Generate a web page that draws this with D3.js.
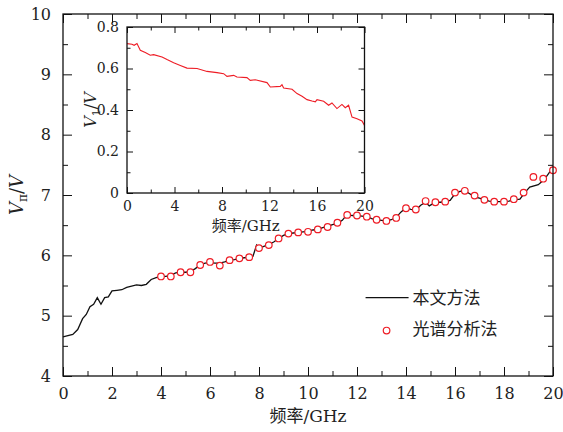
<!DOCTYPE html>
<html>
<head>
<meta charset="utf-8">
<script src="https://cdn.jsdelivr.net/npm/d3@7"></script>
<style>
  body { margin: 0; background: #fff; }
  svg text { font-family: "DejaVu Serif", "Liberation Serif", serif; fill: #222; }
  svg text.cjk, svg tspan.cjk { font-family: "Noto Sans CJK SC", sans-serif; }
</style>
</head>
<body>
<svg width="563" height="432"></svg>
<script>
// main curve (本文方法)
var lineFreq = [0, 0.2, 0.4, 0.6, 0.8, 0.95, 1.1, 1.25, 1.4, 1.55, 1.7, 1.85, 2.0, 2.2, 2.4, 2.6, 2.8, 3.0, 3.2, 3.4, 3.6, 3.8,
    4.0, 4.2, 4.4, 4.6, 4.8, 5.0, 5.2, 5.4, 5.6, 5.8, 6.0, 6.2, 6.4, 6.6, 6.8, 7.0, 7.2, 7.4, 7.6, 7.75, 7.9, 8.0,
    8.2, 8.4, 8.6, 8.8, 9.0, 9.2, 9.4, 9.6, 9.8, 10.0, 10.2, 10.4, 10.6, 10.8, 11.0, 11.2, 11.4, 11.6, 11.8, 12.0,
    12.2, 12.4, 12.6, 12.8, 13.0, 13.2, 13.4, 13.6, 13.8, 14.0, 14.2, 14.4, 14.6, 14.8, 14.95, 15.2, 15.4, 15.6, 15.8,
    16.0, 16.2, 16.4, 16.6, 16.8, 17.0, 17.2, 17.4, 17.6, 17.8, 18.0, 18.2, 18.4, 18.65, 18.85, 19.05, 19.4, 19.65, 19.95, 20.0];
var lineVpi = [4.65, 4.67, 4.69, 4.77, 4.95, 5.02, 5.15, 5.19, 5.30, 5.19, 5.30, 5.31, 5.41, 5.42, 5.43, 5.47, 5.49, 5.51, 5.50, 5.52, 5.60, 5.63,
    5.65, 5.65, 5.67, 5.71, 5.72, 5.72, 5.73, 5.78, 5.84, 5.87, 5.88, 5.87, 5.87, 5.89, 5.92, 5.93, 5.95, 5.96, 5.97, 5.98, 6.17, 6.12,
    6.15, 6.18, 6.22, 6.28, 6.33, 6.36, 6.37, 6.38, 6.39, 6.40, 6.42, 6.43, 6.46, 6.48, 6.51, 6.53, 6.58, 6.68, 6.66, 6.66,
    6.65, 6.64, 6.61, 6.59, 6.58, 6.57, 6.59, 6.63, 6.72, 6.79, 6.76, 6.75, 6.83, 6.88, 6.82, 6.88, 6.88, 6.89, 6.91,
    7.02, 7.06, 7.07, 7.02, 6.97, 6.95, 6.92, 6.90, 6.89, 6.89, 6.89, 6.90, 6.92, 6.93, 7.04, 7.13, 7.17, 7.26, 7.43, 7.46];

// spectral analysis points (光谱分析法)
var dotFreq = [4.0, 4.4, 4.8, 5.2, 5.6, 6.0, 6.4, 6.8, 7.2, 7.6, 8.0, 8.4, 8.8, 9.2, 9.6, 10.0, 10.4, 10.8, 11.2, 11.6,
    12.0, 12.4, 12.8, 13.2, 13.6, 14.0, 14.4, 14.8, 15.2, 15.6, 16.0, 16.4, 16.8, 17.2, 17.6, 18.0, 18.4, 18.8, 19.2, 19.6, 20.0];
var dotVpi = [5.65, 5.65, 5.72, 5.72, 5.84, 5.89, 5.83, 5.92, 5.95, 5.97, 6.12, 6.17, 6.28, 6.36, 6.38, 6.39, 6.43, 6.47, 6.54, 6.67,
    6.66, 6.64, 6.59, 6.57, 6.62, 6.78, 6.76, 6.90, 6.88, 6.89, 7.04, 7.07, 6.99, 6.92, 6.89, 6.89, 6.93, 7.04, 7.30, 7.27, 7.41];

// inset curve (V1)
var insetFreq = [0, 0.42, 0.6, 0.84, 1.12, 1.54, 1.96, 2.24, 2.95, 3.37, 3.93, 4.49, 5.05, 5.9, 6.74, 7.58, 8.14, 8.42, 8.98,
    9.26, 10.1, 10.38, 10.8, 11.79, 12.07, 12.91, 13.05, 13.19, 13.9, 14.32, 14.74, 15.16, 15.58, 15.86, 16.0, 16.56, 16.98,
    17.26, 17.68, 18.1, 18.38, 18.66, 18.95, 19.37, 19.79, 20.0];
var insetV1 = [0.72, 0.717, 0.712, 0.72, 0.688, 0.677, 0.664, 0.667, 0.655, 0.643, 0.628, 0.615, 0.602, 0.6, 0.586, 0.58, 0.575,
    0.562, 0.567, 0.559, 0.556, 0.543, 0.546, 0.532, 0.511, 0.514, 0.522, 0.506, 0.50, 0.479, 0.466, 0.45, 0.443, 0.439, 0.45,
    0.442, 0.423, 0.434, 0.407, 0.427, 0.411, 0.423, 0.366, 0.358, 0.347, 0.326];

var mainXTicks = [0, 2, 4, 6, 8, 10, 12, 14, 16, 18, 20];
var mainYTicks = [4, 5, 6, 7, 8, 9, 10];
var insetXTicks = [0, 4, 8, 12, 16, 20];
var insetYTicks = [0, 0.2, 0.4, 0.6, 0.8];
var legendLabels = ['本文方法', '光谱分析法'];

var RED = '#ee1c25',
    SERIF = '"DejaVu Serif", "Liberation Serif", serif';

var svg = d3.select('svg');

/**
 * draws a boxed frame with inward ticks on all four sides,
 * labels only on bottom and left
 */
function drawFrame(g, x, y, opt) {
    var w = x.range()[1] - x.range()[0],
        h = y.range()[0] - y.range()[1];

    var sides = [
        { ax: d3.axisBottom(x), t: 'translate(0,' + h + ')', isX: true, label: true },
        { ax: d3.axisTop(x), t: 'translate(0,0)', isX: true, label: false },
        { ax: d3.axisLeft(y), t: 'translate(0,0)', isX: false, label: true },
        { ax: d3.axisRight(y), t: 'translate(' + w + ',0)', isX: false, label: false }
    ];

    sides.forEach(function (s) {
        var major = s.isX ? opt.xTicks : opt.yTicks,
            minor = s.isX ? opt.xMinor : opt.yMinor;

        g.append('g').attr('transform', s.t)
            .call(s.ax.tickValues(minor).tickSize(-opt.minorLen).tickFormat(''))
            .call(function (a) { a.select('.domain').remove(); });

        var ag = g.append('g').attr('transform', s.t)
            .call(s.ax.tickValues(major).tickSize(-opt.majorLen)
                .tickPadding(opt.majorLen + opt.pad)
                .tickFormat(s.label ? d3.format('') : ''));
        ag.select('.domain').remove();
        ag.attr('font-family', SERIF).attr('font-size', opt.fontSize);
        ag.selectAll('text').attr('fill', '#222');
    });

    g.selectAll('.tick line').attr('stroke', '#111').attr('stroke-width', 1);

    g.append('rect')
        .attr('width', w).attr('height', h)
        .attr('fill', 'none').attr('stroke', '#111').attr('stroke-width', 1.3);
}

// ---------- main plot ----------
var x = d3.scaleLinear().domain([0, 20]).range([0, 490]),
    y = d3.scaleLinear().domain([4, 10]).range([362, 0]);

var main = svg.append('g').attr('transform', 'translate(63,14)');

main.append('path')
    .datum(d3.zip(lineFreq, lineVpi))
    .attr('fill', 'none').attr('stroke', '#111').attr('stroke-width', 1.3)
    .attr('d', d3.line().x(function (d) { return x(d[0]); }).y(function (d) { return y(d[1]); }));

main.selectAll('circle.dot')
    .data(d3.zip(dotFreq, dotVpi))
    .join('circle').attr('class', 'dot')
    .attr('cx', function (d) { return x(d[0]); })
    .attr('cy', function (d) { return y(d[1]); })
    .attr('r', 3.3)
    .attr('fill', '#fff').attr('stroke', RED).attr('stroke-width', 1.2);

drawFrame(main, x, y, {
    xTicks: mainXTicks, yTicks: mainYTicks,
    xMinor: d3.range(1, 20, 2), yMinor: d3.range(4.5, 10, 1),
    majorLen: 9, minorLen: 5, pad: 3, fontSize: 16
});

// axis titles
var yl = main.append('text')
    .attr('transform', 'translate(-40,' + y(7) + ') rotate(-90)')
    .attr('text-anchor', 'middle').style('font-size', '18px');
yl.append('tspan').style('font-style', 'italic').text('V');
yl.append('tspan').attr('dy', 4).style('font-size', '12px').text('π');
yl.append('tspan').attr('dy', -4).text('/');
yl.append('tspan').style('font-style', 'italic').text('V');

var xl = main.append('text')
    .attr('x', x(10)).attr('y', 408)
    .attr('text-anchor', 'middle').style('font-size', '17px');
xl.append('tspan').attr('class', 'cjk').style('font-size', '17px').text('频率');
xl.append('tspan').text('/GHz');

// legend
var legend = main.append('g').attr('transform', 'translate(' + x(12.35) + ',' + y(5.3) + ')');
legend.append('line').attr('x1', 0).attr('x2', 43)
    .attr('stroke', '#111').attr('stroke-width', 1.3);
legend.append('circle').attr('cx', 21).attr('cy', 33).attr('r', 3.3)
    .attr('fill', '#fff').attr('stroke', RED).attr('stroke-width', 1.2);
legend.selectAll('text.lg')
    .data(legendLabels)
    .join('text').attr('class', 'lg cjk')
    .attr('x', 47).attr('y', function (d, i) { return i * 31 + 6; })
    .style('font-size', '17px')
    .text(function (d) { return d; });

// ---------- inset ----------
var ix = d3.scaleLinear().domain([0, 20]).range([0, 237.5]),
    iy = d3.scaleLinear().domain([0, 0.8]).range([166, 0]);

var inset = svg.append('g').attr('transform', 'translate(127,27)');

inset.append('path')
    .datum(d3.zip(insetFreq, insetV1))
    .attr('fill', 'none').attr('stroke', RED).attr('stroke-width', 1.1)
    .attr('d', d3.line().x(function (d) { return ix(d[0]); }).y(function (d) { return iy(d[1]); }));

drawFrame(inset, ix, iy, {
    xTicks: insetXTicks, yTicks: insetYTicks,
    xMinor: [2, 6, 10, 14, 18], yMinor: [0.1, 0.3, 0.5, 0.7],
    majorLen: 6, minorLen: 3.5, pad: 2, fontSize: 14
});

var iyl = inset.append('text')
    .attr('transform', 'translate(-31,' + iy(0.4) + ') rotate(-90)')
    .attr('text-anchor', 'middle').style('font-size', '16px');
iyl.append('tspan').style('font-style', 'italic').text('V');
iyl.append('tspan').attr('dy', 4).style('font-size', '11px').text('1');
iyl.append('tspan').attr('dy', -4).text('/');
iyl.append('tspan').style('font-style', 'italic').text('V');

var ixl = inset.append('text')
    .attr('x', ix(10)).attr('y', 204)
    .attr('text-anchor', 'middle').style('font-size', '15px');
ixl.append('tspan').attr('class', 'cjk').style('font-size', '15px').text('频率');
ixl.append('tspan').text('/GHz');
</script>
</body>
</html>
